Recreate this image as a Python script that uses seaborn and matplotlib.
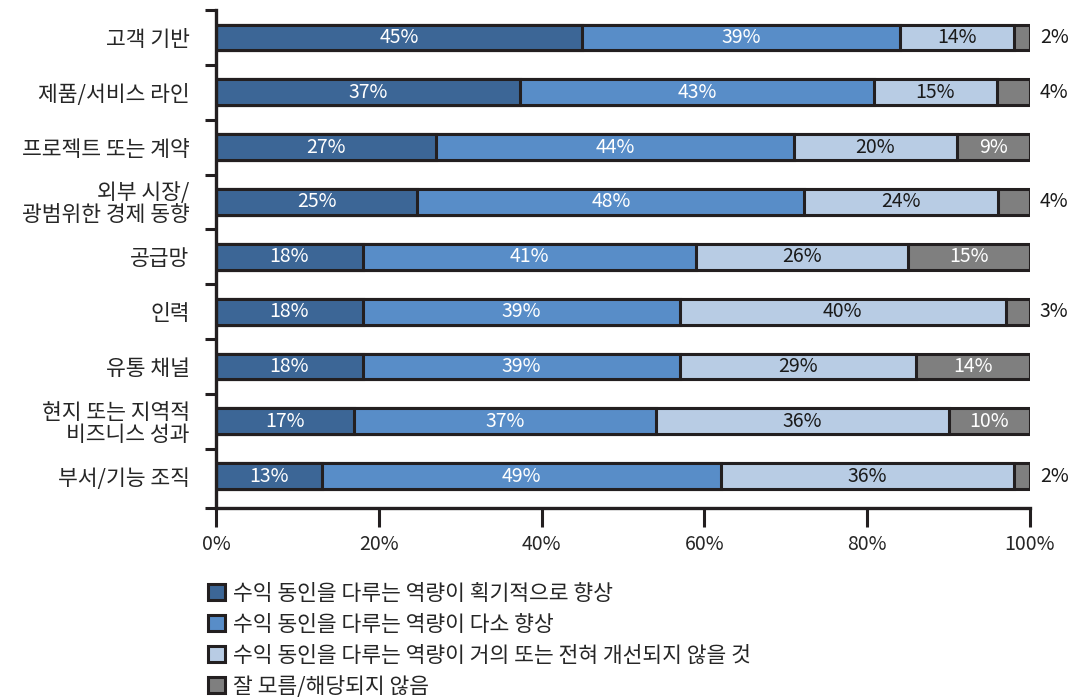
import numpy as np
import pandas as pd
import matplotlib
matplotlib.use("Agg")
import matplotlib.pyplot as plt
from matplotlib.patches import Patch
import seaborn as sns

# Categories (top to bottom)
categories = [
    "고객 기반",
    "제품/서비스 라인",
    "프로젝트 또는 계약",
    "외부 시장/\n광범위한 경제 동향",
    "공급망",
    "인력",
    "유통 채널",
    "현지 또는 지역적\n비즈니스 성과",
    "부서/기능 조직",
]

# Shares per answer (%)
dramatic = [45, 37, 27, 25, 18, 18, 18, 17, 13]
somewhat = [39, 43, 44, 48, 41, 39, 39, 37, 49]
little = [14, 15, 20, 24, 26, 40, 29, 36, 36]
unknown = [2, 4, 9, 4, 15, 3, 14, 10, 2]

seriesNames = [
    "수익 동인을 다루는 역량이 획기적으로 향상",
    "수익 동인을 다루는 역량이 다소 향상",
    "수익 동인을 다루는 역량이 거의 또는 전혀 개선되지 않을 것",
    "잘 모름/해당되지 않음",
]
colors = ["#3c6696", "#588dc8", "#b8cce4", "#7f7f7f"]
textColors = ["white", "white", "#1a1a1a", "white"]
edge = "#231f20"

sns.set_theme(style="white")
plt.rcParams["font.family"] = ["Noto Sans CJK KR", "DejaVu Sans"]

vals = np.array([dramatic, somewhat, little, unknown], dtype=float)
# bars are drawn as 100% wide
widths = vals / vals.sum(axis=0) * 100
cum = np.cumsum(widths, axis=0)

fig = plt.figure(figsize=(10.82, 6.98), dpi=100)
ax = fig.add_axes([216 / 1082, 1 - 508 / 698, (1030 - 216) / 1082, (508 - 10) / 698])

# stacked bars: draw cumulative totals from the outermost layer inward
for i in range(3, -1, -1):
    df = pd.DataFrame({"cat": categories, "v": cum[i]})
    sns.barplot(data=df, x="v", y="cat", orient="h", color=colors[i],
                saturation=1, edgecolor=edge, linewidth=2.2, width=0.47, ax=ax)

# value labels (small shares go outside the bar)
for i in range(4):
    for j in range(len(categories)):
        v = vals[i, j]
        if v < 5:
            ax.text(101.2, j, f"{int(v)}%", ha="left", va="center",
                    fontsize=14, color="#1a1a1a")
        else:
            center = cum[i, j] - widths[i, j] / 2
            ax.text(center, j, f"{int(v)}%", ha="center", va="center",
                    fontsize=14, color=textColors[i])

ax.set_xlim(0, 100)
ax.set_ylim(8.58, -0.5)
ax.set_xlabel("")
ax.set_ylabel("")
ax.set_xticks([0, 20, 40, 60, 80, 100])
ax.set_xticklabels([f"{t}%" for t in [0, 20, 40, 60, 80, 100]], fontsize=14)
ax.set_yticks(range(len(categories)))
ax.set_yticklabels(categories, fontsize=15.5, linespacing=1.0)
ax.set_yticks(list(np.arange(-0.5, 8, 1)) + [8.58], minor=True)
ax.tick_params(axis="y", which="major", left=False, length=0, pad=19)
ax.tick_params(axis="y", which="minor", left=True, length=8, width=2.2, color=edge, direction="out")
ax.tick_params(axis="x", which="major", bottom=True, length=14, width=2.2, color=edge, direction="out", pad=5)

for side in ["top", "right"]:
    ax.spines[side].set_visible(False)
for side in ["left", "bottom"]:
    ax.spines[side].set_color(edge)
    ax.spines[side].set_linewidth(2.4)

handles = [Patch(facecolor=c, edgecolor=edge, linewidth=2.2) for c in colors]
fig.legend(handles, seriesNames, loc="upper left",
           bbox_to_anchor=(199 / 1082, 1 - 574 / 698), frameon=False,
           fontsize=15.5, handlelength=0.8, handleheight=0.8,
           handletextpad=0.4, labelspacing=0.42, borderaxespad=0)

fig.savefig("out.png", dpi=100)
